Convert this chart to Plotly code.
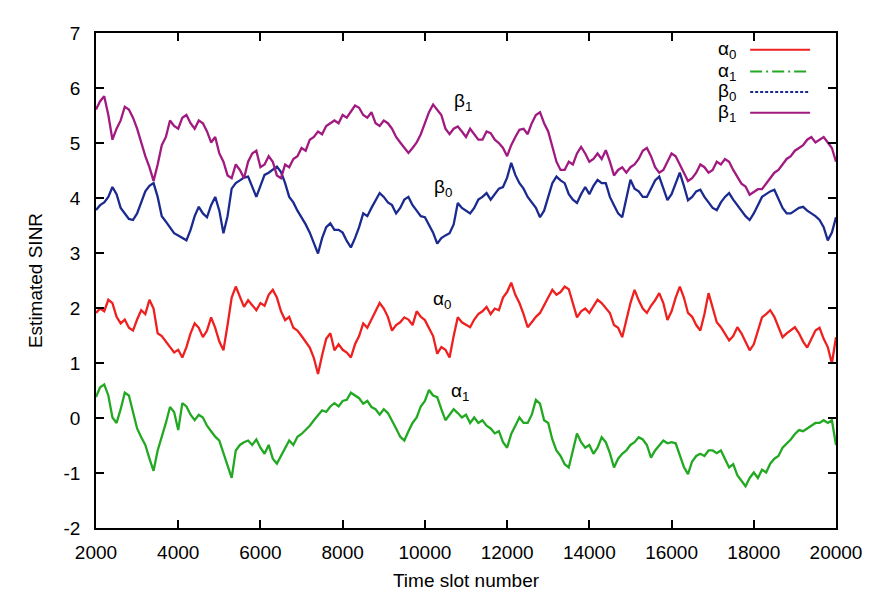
import plotly.graph_objects as go

# Time slot grid (every 100 slots)
time_slots = list(range(2000, 20001, 100))

# Estimated SINR values (rows of 1000 slots)
alpha0 = [
    1.91, 1.99, 1.94, 2.15, 2.09, 1.84, 1.72, 1.79, 1.64, 1.59,   # 2000
    1.79, 1.96, 1.89, 2.15, 1.99, 1.54, 1.49, 1.39, 1.28, 1.19,   # 3000
    1.24, 1.10, 1.29, 1.54, 1.72, 1.64, 1.47, 1.59, 1.83, 1.64,   # 4000
    1.39, 1.23, 1.69, 2.19, 2.39, 2.19, 2.02, 2.14, 2.04, 1.96,   # 5000
    2.09, 2.04, 2.24, 2.33, 2.19, 1.94, 1.78, 1.84, 1.64, 1.59,   # 6000
    1.49, 1.39, 1.28, 1.09, 0.80, 1.14, 1.44, 1.54, 1.23, 1.34,   # 7000
    1.24, 1.19, 1.10, 1.34, 1.49, 1.72, 1.64, 1.79, 1.94, 2.09,   # 8000
    1.99, 1.84, 1.59, 1.69, 1.74, 1.83, 1.79, 1.69, 1.94, 1.84,   # 9000
    1.78, 1.64, 1.49, 1.17, 1.29, 1.24, 1.10, 1.49, 1.83, 1.74,   # 10000
    1.69, 1.65, 1.79, 1.89, 1.94, 2.02, 1.89, 1.99, 1.96, 2.19,   # 11000
    2.29, 2.46, 2.24, 2.09, 1.89, 1.65, 1.74, 1.84, 1.91, 2.04,   # 12000
    2.19, 2.33, 2.24, 2.29, 2.39, 2.34, 2.09, 1.83, 1.94, 1.99,   # 13000
    1.91, 2.04, 2.15, 2.09, 1.99, 1.91, 1.69, 1.64, 1.47, 1.79,   # 14000
    2.09, 2.33, 2.14, 1.99, 1.91, 2.04, 2.14, 2.27, 2.09, 1.78,   # 15000
    1.94, 2.19, 2.39, 2.19, 1.91, 1.84, 1.69, 1.59, 1.89, 2.27,   # 16000
    1.99, 1.74, 1.65, 1.54, 1.41, 1.49, 1.65, 1.54, 1.39, 1.23,   # 17000
    1.34, 1.59, 1.83, 1.89, 1.96, 1.84, 1.64, 1.47, 1.54, 1.59,   # 18000
    1.65, 1.54, 1.39, 1.28, 1.44, 1.59, 1.64, 1.44, 1.29, 0.99,   # 19000
    1.47,                                                         # 20000
]

alpha1 = [
    0.38, 0.56, 0.61, 0.41, 0.01, -0.09, 0.16, 0.46, 0.41, 0.11,        # 2000
    -0.19, -0.35, -0.49, -0.74, -0.96, -0.59, -0.35, -0.09, 0.20, 0.11,  # 3000
    -0.22, 0.27, 0.21, 0.06, -0.04, 0.06, 0.01, -0.14, -0.24, -0.34,    # 4000
    -0.41, -0.64, -0.84, -1.09, -0.59, -0.49, -0.44, -0.41, -0.49, -0.39,  # 5000
    -0.54, -0.65, -0.49, -0.74, -0.83, -0.69, -0.54, -0.41, -0.49, -0.34,  # 6000
    -0.29, -0.22, -0.14, -0.04, 0.06, 0.14, 0.11, 0.21, 0.27, 0.21,     # 7000
    0.31, 0.33, 0.46, 0.41, 0.36, 0.26, 0.31, 0.20, 0.16, 0.06,         # 8000
    0.16, 0.09, -0.04, -0.19, -0.34, -0.41, -0.24, -0.09, 0.01, 0.21,   # 9000
    0.31, 0.51, 0.41, 0.38, 0.16, -0.04, 0.06, 0.16, 0.09, 0.01,        # 10000
    0.06, -0.09, 0.01, -0.09, -0.04, -0.14, -0.19, -0.28, -0.24, -0.44,  # 11000
    -0.54, -0.29, -0.14, 0.01, -0.09, -0.09, 0.06, 0.33, 0.26, -0.04,   # 12000
    -0.09, -0.39, -0.59, -0.69, -0.84, -0.90, -0.59, -0.28, -0.44, -0.54,  # 13000
    -0.49, -0.65, -0.54, -0.35, -0.44, -0.64, -0.90, -0.74, -0.65, -0.59,  # 14000
    -0.49, -0.44, -0.35, -0.39, -0.49, -0.72, -0.59, -0.49, -0.41, -0.46,  # 15000
    -0.44, -0.46, -0.69, -0.89, -1.02, -0.79, -0.69, -0.65, -0.69, -0.59,  # 16000
    -0.59, -0.64, -0.59, -0.74, -0.90, -0.84, -1.04, -1.14, -1.24, -1.09,  # 17000
    -0.99, -1.09, -0.94, -0.99, -0.83, -0.74, -0.69, -0.54, -0.46, -0.39,  # 18000
    -0.29, -0.22, -0.24, -0.19, -0.14, -0.09, -0.09, -0.04, -0.09, -0.04,  # 19000
    -0.49,                                                               # 20000
]

beta0 = [
    3.78, 3.87, 3.92, 4.02, 4.20, 4.07, 3.82, 3.72, 3.62, 3.60,   # 2000
    3.72, 3.92, 4.12, 4.22, 4.27, 4.02, 3.67, 3.57, 3.47, 3.36,   # 3000
    3.32, 3.27, 3.23, 3.42, 3.67, 3.84, 3.72, 3.65, 3.87, 4.02,   # 4000
    3.77, 3.36, 3.67, 4.17, 4.27, 4.32, 4.37, 4.39, 4.22, 4.02,   # 5000
    4.22, 4.42, 4.46, 4.52, 4.57, 4.47, 4.27, 4.02, 3.92, 3.77,   # 6000
    3.65, 3.52, 3.37, 3.17, 2.99, 3.27, 3.47, 3.54, 3.42, 3.42,   # 7000
    3.37, 3.22, 3.10, 3.27, 3.47, 3.72, 3.67, 3.82, 3.97, 4.09,   # 8000
    4.02, 3.92, 3.87, 3.72, 3.82, 3.97, 4.02, 3.87, 3.77, 3.67,   # 9000
    3.65, 3.52, 3.37, 3.17, 3.27, 3.32, 3.36, 3.52, 3.91, 3.82,   # 10000
    3.77, 3.72, 3.82, 3.97, 4.02, 4.09, 3.97, 4.07, 4.17, 4.20,   # 11000
    4.37, 4.64, 4.42, 4.27, 4.17, 4.02, 3.91, 3.82, 3.65, 3.77,   # 12000
    4.02, 4.27, 4.39, 4.32, 4.27, 4.07, 3.97, 3.91, 4.07, 4.20,   # 13000
    4.07, 4.22, 4.33, 4.27, 4.27, 4.02, 3.87, 3.72, 3.65, 3.97,   # 14000
    4.33, 4.17, 4.12, 4.02, 4.02, 4.17, 4.32, 4.39, 4.17, 3.96,   # 15000
    4.07, 4.27, 4.46, 4.22, 3.96, 4.02, 4.12, 4.15, 4.02, 3.92,   # 16000
    3.82, 3.78, 3.92, 4.02, 4.09, 3.97, 3.87, 3.77, 3.67, 3.60,   # 17000
    3.72, 3.87, 4.02, 4.07, 4.12, 4.15, 3.97, 3.82, 3.72, 3.72,   # 18000
    3.77, 3.82, 3.84, 3.77, 3.72, 3.67, 3.60, 3.47, 3.23, 3.37,   # 19000
    3.65,                                                         # 20000
]

beta1 = [
    5.61, 5.76, 5.85, 5.51, 5.06, 5.26, 5.41, 5.66, 5.61, 5.46,   # 2000
    5.26, 5.01, 4.76, 4.56, 4.31, 4.61, 4.96, 5.11, 5.41, 5.31,   # 3000
    5.26, 5.46, 5.51, 5.36, 5.26, 5.41, 5.36, 5.21, 5.01, 5.11,   # 4000
    4.81, 4.66, 4.41, 4.36, 4.61, 4.51, 4.36, 4.66, 4.81, 4.86,   # 5000
    4.56, 4.61, 4.76, 4.66, 4.41, 4.36, 4.61, 4.56, 4.71, 4.76,   # 6000
    4.91, 4.86, 5.06, 5.11, 5.21, 5.16, 5.31, 5.36, 5.41, 5.36,   # 7000
    5.51, 5.46, 5.56, 5.68, 5.64, 5.51, 5.46, 5.56, 5.36, 5.31,   # 8000
    5.41, 5.36, 5.26, 5.11, 5.01, 4.91, 4.82, 4.91, 5.01, 5.16,   # 9000
    5.36, 5.56, 5.70, 5.61, 5.51, 5.26, 5.16, 5.26, 5.30, 5.21,   # 10000
    5.11, 5.26, 5.16, 5.06, 5.06, 5.21, 5.18, 5.06, 5.00, 4.91,   # 11000
    4.76, 4.96, 5.11, 5.24, 5.26, 5.16, 5.36, 5.51, 5.56, 5.36,   # 12000
    5.21, 4.91, 4.66, 4.51, 4.51, 4.66, 4.61, 4.81, 4.93, 4.81,   # 13000
    4.66, 4.71, 4.81, 4.71, 4.87, 4.66, 4.41, 4.51, 4.56, 4.46,   # 14000
    4.56, 4.61, 4.71, 4.86, 4.91, 4.76, 4.56, 4.46, 4.51, 4.66,   # 15000
    4.81, 4.76, 4.61, 4.46, 4.31, 4.36, 4.46, 4.61, 4.56, 4.46,   # 16000
    4.51, 4.66, 4.61, 4.71, 4.66, 4.51, 4.38, 4.26, 4.21, 4.06,   # 17000
    4.11, 4.16, 4.16, 4.26, 4.36, 4.46, 4.51, 4.61, 4.71, 4.76,   # 18000
    4.86, 4.91, 4.96, 5.06, 5.11, 5.01, 5.06, 5.11, 5.01, 4.91,   # 19000
    4.66,                                                         # 20000
]

series_names = ["α<sub>0</sub>", "α<sub>1</sub>", "β<sub>0</sub>", "β<sub>1</sub>"]
series_values = [alpha0, alpha1, beta0, beta1]
series_colors = ["#ee2020", "#22a822", "#1a2a8e", "#a11a80"]
legend_dashes = ["solid", "12px,4px,2px,4px", "3px,2px", "solid"]

x_ticks = list(range(2000, 20001, 2000))
x_tick_labels = ["2000", "4000", "6000", "8000", "10000", "12000",
                 "14000", "16000", "18000", "20000"]
y_ticks = [-2, -1, 0, 1, 2, 3, 4, 5, 6, 7]
y_tick_labels = ["-2", "-1", "0", "1", "2", "3", "4", "5", "6", "7"]

# In-plot curve labels: (text, x, y)
curve_labels = [
    ("β<sub>1</sub>", 10930, 5.75),
    ("β<sub>0</sub>", 10440, 4.18),
    ("α<sub>0</sub>", 10415, 2.15),
    ("α<sub>1</sub>", 10850, 0.47),
]

FONT = "Liberation Sans, Arial, Helvetica, sans-serif"
FS = 19

fig = go.Figure()
for name, vals, col in zip(series_names, series_values, series_colors):
    fig.add_trace(go.Scatter(
        x=time_slots, y=vals, mode="lines", name=name,
        line=dict(color=col, width=2.3), showlegend=False,
        hoverinfo="skip",
    ))

annotations = []
for text, lx, ly in curve_labels:
    annotations.append(dict(x=lx, y=ly, xref="x", yref="y", text=text,
                            showarrow=False, font=dict(size=FS, color="black", family=FONT)))

# Custom legend (text to the left of line sample, like the original)
legend_y = [0.966, 0.922, 0.881, 0.839]
shapes = []
for name, col, dash, ly in zip(series_names, series_colors, legend_dashes, legend_y):
    annotations.append(dict(x=0.868, y=ly, xref="paper", yref="paper", text=name,
                            xanchor="right", yanchor="middle", showarrow=False,
                            font=dict(size=FS, color="black", family=FONT)))
    shapes.append(dict(type="line", xref="paper", yref="paper",
                       x0=0.884, x1=0.965, y0=ly, y1=ly,
                       line=dict(color=col, width=2, dash=dash)))

fig.update_layout(
    width=889, height=607,
    margin=dict(l=96, r=53, t=33, b=79),
    paper_bgcolor="white", plot_bgcolor="white",
    font=dict(family=FONT, size=FS, color="black"),
    annotations=annotations, shapes=shapes,
    hovermode=False,
)
fig.update_xaxes(
    range=[2000, 20000], tickvals=x_ticks, ticktext=x_tick_labels,
    showline=True, linecolor="black", linewidth=1.5, mirror="ticks",
    ticks="inside", ticklen=8, tickwidth=1.5, tickcolor="black",
    showgrid=False, zeroline=False, ticklabelstandoff=6,
    title=dict(text="Time slot number", standoff=12, font=dict(size=FS)),
)
fig.update_yaxes(
    range=[-2, 7], tickvals=y_ticks, ticktext=y_tick_labels,
    showline=True, linecolor="black", linewidth=1.5, mirror="ticks",
    ticks="inside", ticklen=8, tickwidth=1.5, tickcolor="black",
    showgrid=False, zeroline=False, ticklabelstandoff=10,
    title=dict(text="Estimated SINR", standoff=16, font=dict(size=FS)),
)

fig.write_html("out.html")
